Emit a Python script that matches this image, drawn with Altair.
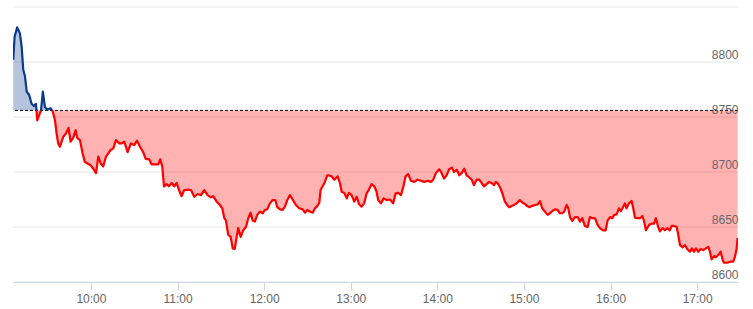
import altair as alt
import pandas as pd

# minutes after 09:00 and index level
minutes = [6.2, 7.1, 8.9, 10.8, 12.0, 13.1, 14.3, 15.5, 17.2, 18.9, 20.5, 21.9, 22.8, 24.2, 25.4, 26.7,
           28.1, 29.3, 30.4, 32.1, 33.5, 35.1, 36.2, 37.3, 38.5, 40.8, 42.7, 44.5, 45.9, 47.7, 49.4, 50.5,
           52.4, 54.2, 55.8, 57.4, 59.8, 61.6, 63.5, 65.1, 66.7, 68.5, 70.4, 72.0, 73.6, 75.5, 77.3, 79.6,
           81.3, 83.1, 85.4, 87.7, 90.0, 91.9, 94.0, 96.2, 97.9, 100.4, 102.0, 104.3, 106.6, 108.0, 109.4,
           110.6, 112.4, 114.0, 115.9, 117.7, 119.4, 121.0, 122.8, 124.6, 127.0, 129.3, 131.6, 133.9, 136.2,
           138.5, 140.8, 143.1, 144.7, 147.1, 149.4, 151.0, 152.4, 153.5, 155.1, 156.8, 158.2, 159.6, 161.0,
           162.0, 163.7, 165.5, 167.4, 169.0, 170.6, 172.0, 173.6, 175.2, 177.1, 179.0, 180.5, 182.1, 184.0,
           185.9, 187.7, 189.1, 191.0, 192.8, 194.4, 196.0, 197.9, 199.7, 202.0, 204.3, 206.7, 208.3, 209.9,
           211.7, 213.6, 215.2, 216.8, 218.2, 219.1, 220.5, 222.1, 223.7, 224.4, 226.8, 228.6, 230.9, 232.5,
           233.7, 235.5, 237.2, 238.7, 240.6, 242.4, 244.1, 245.7, 247.5, 249.3, 251.0, 252.6, 254.5, 256.3,
           257.9, 259.0, 260.9, 262.8, 264.9, 267.2, 269.4, 271.1, 272.9, 274.8, 276.4, 278.0, 279.8, 281.7,
           284.0, 286.3, 288.6, 290.9, 293.3, 295.5, 297.2, 299.0, 301.3, 303.0, 304.6, 306.4, 308.2, 310.1,
           311.5, 313.4, 315.2, 316.8, 318.6, 320.3, 322.1, 323.8, 325.3, 327.2, 329.0, 330.7, 332.3, 334.1,
           335.9, 337.6, 339.2, 340.6, 342.2, 343.8, 345.2, 346.8, 348.4, 349.8, 351.5, 353.0, 354.9, 357.2,
           359.1, 360.7, 362.3, 363.7, 365.3, 367.6, 369.5, 371.1, 372.7, 374.5, 376.4, 378.0, 379.6, 381.5,
           383.3, 384.9, 386.5, 387.9, 389.6, 390.7, 391.9, 393.5, 395.3, 397.2, 398.8, 400.4, 402.2, 404.1,
           405.7, 407.3, 409.2, 411.0, 412.6, 414.9, 416.6, 418.0, 419.6, 421.2, 422.5, 424.2, 425.8, 427.2,
           428.8, 430.0, 431.1, 432.7, 434.6, 435.7, 436.9, 438.8, 440.4, 442.0, 443.3, 444.5, 446.8, 448.5,
           450.1, 451.4, 453.0, 454.2, 456.1, 457.7, 459.3, 461.1, 462.3, 463.9, 465.8, 466.9, 468.1, 470.0,
           471.5, 473.1, 475.0, 476.4, 477.8, 479.2, 480.7, 482.4, 484.2, 486.1, 487.7, 488.9, 490.0, 491.7,
           493.0, 494.6, 496.3, 497.7, 498.6, 500.8, 503.2, 505.0, 506.2, 507.3, 508.0]

values = [8802, 8823, 8831.5, 8826, 8814, 8793, 8787, 8773, 8770, 8762, 8760, 8762, 8747, 8752, 8756, 8773,
          8759, 8757.5, 8757, 8758, 8755, 8747, 8735, 8726, 8723, 8732, 8735, 8740, 8727.5, 8731, 8738, 8731,
          8729, 8717, 8709, 8708, 8706, 8703, 8699, 8714, 8708, 8705, 8714, 8717, 8720, 8721.5, 8729, 8726,
          8726, 8727.5, 8718, 8726, 8724.5, 8728.5, 8723, 8718, 8712, 8711.5, 8707, 8707, 8707, 8711.5, 8705,
          8687, 8689, 8687, 8690, 8687, 8690, 8683.6, 8678, 8683.6, 8684, 8683.6, 8677.5, 8680, 8679,
          8683.6, 8679, 8677, 8678, 8673, 8670, 8667, 8658, 8656, 8643, 8641, 8630.6, 8630, 8641,
          8649, 8641, 8647, 8650, 8658, 8663, 8656, 8655, 8661, 8664, 8662.5, 8665.5, 8666, 8671.5,
          8674.5, 8674.5, 8668, 8666, 8665.5, 8668.5, 8674.5, 8679, 8675, 8670, 8667, 8666, 8663, 8665.5,
          8664, 8663, 8667, 8669, 8672, 8683.6, 8687, 8691, 8697, 8697, 8696, 8693, 8696, 8690,
          8682, 8681, 8676, 8681, 8679, 8673, 8677.5, 8671, 8668.5, 8671.5, 8680.6, 8684, 8689, 8687,
          8682, 8674.5, 8671.5, 8676, 8674.5, 8675, 8671.5, 8680.6, 8681, 8679, 8686.6, 8696, 8698, 8692,
          8691, 8693, 8692, 8691, 8692, 8691, 8693, 8699, 8702.5, 8699, 8694, 8697, 8702.5, 8704,
          8700, 8702, 8697, 8699, 8703, 8697, 8695, 8693, 8688, 8693, 8693, 8690, 8687, 8689,
          8691, 8690, 8688, 8691, 8689, 8685, 8680, 8673, 8670, 8668, 8669, 8670, 8671.5, 8674.5,
          8672, 8671, 8669, 8668, 8669, 8670, 8670.6, 8673.6, 8667, 8664, 8661, 8662.5, 8664.5, 8666,
          8665.5, 8662.5, 8662.5, 8664, 8670, 8667, 8659, 8655.5, 8659, 8659, 8655, 8658, 8651, 8650,
          8659, 8658, 8658, 8652, 8649, 8647, 8647, 8656, 8659, 8658, 8661, 8661.5, 8667, 8664.5,
          8668.5, 8671.5, 8667, 8671.5, 8673.6, 8667, 8658.5, 8658, 8658, 8660, 8655, 8647, 8652, 8653,
          8653, 8658, 8650, 8646, 8649, 8647, 8649, 8647, 8651, 8651, 8650, 8643, 8633.6, 8631.5,
          8633.6, 8630, 8627.5, 8630.6, 8627.5, 8630.6, 8627.5, 8630, 8629, 8630.6, 8632, 8627.5, 8620.6, 8623.6,
          8622.5, 8624.5, 8627.5, 8620, 8617.5, 8617.5, 8618.5, 8618.5, 8623, 8630, 8640]

base_level = 8756
y_tick_values = [8600, 8650, 8700, 8750, 8800, 8850]
x_tick_hours = [10, 11, 12, 13, 14, 15, 16, 17]

BLUE = "#0b3a8c"
RED = "#ff0000"
FONT = "Liberation Sans"


def stamp(m):
    total = int(round(m * 60))
    h = 9 + total // 3600
    mm = (total % 3600) // 60
    ss = total % 60
    return f"2024-01-02T{h:02d}:{mm:02d}:{ss:02d}"


rows = []
seg = 0
prev_side = None
for i, (m, v) in enumerate(zip(minutes, values)):
    side = "up" if v >= base_level else "down"
    if i > 0 and side != prev_side:
        m0, v0 = minutes[i - 1], values[i - 1]
        frac = (base_level - v0) / (v - v0)
        mc = m0 + frac * (m - m0)
        rows.append({"t": stamp(mc), "v": base_level, "seg": seg, "side": prev_side})
        seg += 1
        rows.append({"t": stamp(mc), "v": base_level, "seg": seg, "side": side})
    rows.append({"t": stamp(m), "v": v, "seg": seg, "side": side})
    prev_side = side

df = pd.DataFrame(rows)
grid_df = pd.DataFrame({"v": y_tick_values})
base_df = pd.DataFrame({"v": [base_level]})

yscale = alt.Scale(domain=[8600, 8850], nice=False, zero=False)
yaxis = alt.Axis(orient="right", values=y_tick_values, grid=False, ticks=False, domain=False,
                 labelAlign="right", labelPadding=0, labelBaseline="alphabetic", labelOffset=-4,
                 labelColor="#666666", labelFontSize=12, labelFont=FONT, title=None, zindex=1,
                 format="d", labelExpr="datum.value >= 8850 ? '' : datum.label")
y_enc = alt.Y("v:Q", scale=yscale, axis=yaxis)

xscale = alt.Scale(domain=[alt.DateTime(year=2024, month=1, date=2, hours=9, minutes=6),
                           alt.DateTime(year=2024, month=1, date=2, hours=17, minutes=28, seconds=18)])
xaxis = alt.Axis(values=[alt.DateTime(year=2024, month=1, date=2, hours=h) for h in x_tick_hours],
                 format="%H:%M", grid=False, domainColor="#ccd6eb", tickColor="#ccd6eb", tickSize=8,
                 labelColor="#666666", labelFontSize=12, labelFont=FONT, labelPadding=3, title=None,
                 zindex=1, labelFlush=False, labelOverlap=False)
x_enc = alt.X("t:T", scale=xscale, axis=xaxis)

color_enc = alt.Color("side:N", scale=alt.Scale(domain=["up", "down"], range=[BLUE, RED]), legend=None)

grid = alt.Chart(grid_df).mark_rule(color="#e6e6e6", strokeWidth=1).encode(y=y_enc)

area = alt.Chart(df).mark_area(opacity=0.3, clip=True).encode(
    x=x_enc, y=y_enc, y2=alt.datum(base_level), color=color_enc, detail="seg:N"
)

baseline = alt.Chart(base_df).mark_rule(color="#000000", strokeWidth=1, strokeDash=[3, 2]).encode(y=y_enc)

line = alt.Chart(df).mark_line(strokeWidth=2.2, clip=True, strokeJoin="round").encode(
    x=x_enc, y=y_enc, color=color_enc, detail="seg:N", order="t:T"
)

chart = alt.layer(grid, area, baseline, line).properties(
    width=725, height=275,
    autosize=alt.AutoSizeParams(type="none"),
    padding={"left": 13, "top": 7, "right": 15, "bottom": 27},
    background="white",
).configure_view(stroke=None)

chart.save("out.html", embed_options={"renderer": "svg", "actions": False})
